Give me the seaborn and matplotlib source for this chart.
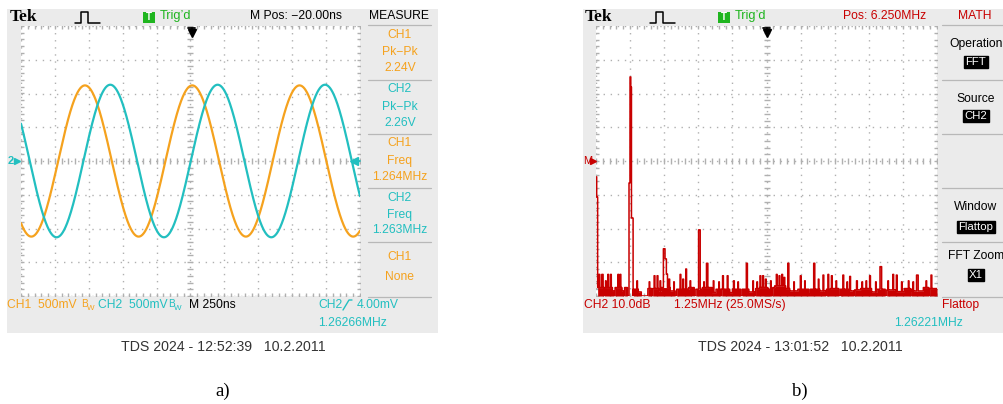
import numpy as np
import pandas as pd
import matplotlib
matplotlib.use("Agg")
import matplotlib.pyplot as plt
import seaborn as sns
from matplotlib.patches import Rectangle

sns.set_theme(style="white")
plt.rcParams["font.family"] = ["Liberation Sans", "DejaVu Sans"]
plt.rcParams["lines.scale_dashes"] = False

# ---------------- data ----------------
channels = ["CH1", "CH2"]
pk_pk_volts = [2.24, 2.26]          # MEASURE panel
freq_mhz = [1.264, 1.263]           # MEASURE panel
peak_time_ns = [13.0, 200.0]        # time of a positive peak
volts_per_div = 0.5
time_window_ns = [-1250, 1250]      # 250 ns/div, 10 divisions

# FFT noise floor as steps: start frequency (MHz) and level (dB rel. M marker)
floor_start_mhz = [0.06, 0.28, 0.31, 0.60, 0.66, 0.70, 0.95, 1.02, 1.05, 1.15,
                   1.37, 1.55, 1.66, 1.90, 2.05, 2.08, 2.30, 2.40, 2.72, 2.90,
                   2.96, 3.40, 3.52, 3.55, 3.60, 3.66, 3.90, 4.25, 4.40, 4.58,
                   4.61, 4.90, 5.00, 5.30, 5.36, 5.60, 5.82, 5.85, 6.00, 6.30,
                   6.45, 6.48, 6.55, 6.95, 7.10, 7.40, 7.80, 7.86, 8.20, 8.42,
                   8.45, 8.60, 8.90, 8.96, 9.30, 9.45, 9.48, 9.70, 10.10, 10.30,
                   10.60, 10.66, 11.00, 11.30, 11.52, 11.55, 11.60, 12.00, 12.20, 12.23]
floor_level_db = [-37.5, -40.0, -37.5, -38.5, -40.0, -37.5, -38.5, -40.0, -37.5, -40.0,
                  -38.0, -38.8, -40.0, -37.8, -40.0, -37.8, -38.5, -37.5, -38.5, -40.0,
                  -38.0, -37.5, -40.0, -37.5, -40.0, -38.0, -37.5, -39.0, -38.0, -40.0,
                  -38.0, -39.0, -38.0, -40.0, -38.0, -38.8, -40.0, -37.8, -37.5, -38.0,
                  -40.0, -37.5, -37.0, -37.8, -38.5, -38.0, -39.5, -38.0, -38.5, -40.0,
                  -38.0, -37.8, -40.0, -38.0, -38.5, -40.0, -38.2, -37.8, -38.8, -38.0,
                  -40.0, -38.2, -38.7, -37.8, -40.0, -38.0, -38.5, -37.5, -40.0, -37.8]

# FFT peaks / spikes above the floor: start, end (MHz) and level (dB)
spike_start_mhz = [0.00, 0.025, 0.10, 0.21, 0.35, 0.43, 0.53, 0.80, 0.88, 1.21,
                   1.245, 1.275, 1.30, 1.50, 1.95, 2.13, 2.24, 2.35, 2.47, 2.53,
                   2.58, 2.67, 2.85, 3.08, 3.18, 3.29, 3.45, 3.76, 3.95, 4.05,
                   4.30, 4.50, 4.64, 4.81, 5.04, 5.20, 5.51, 5.75, 5.90, 6.01,
                   6.11, 6.21, 6.40, 6.61, 6.71, 6.81, 6.89, 7.03, 7.25, 7.49,
                   7.65, 7.98, 8.15, 8.32, 8.50, 8.63, 8.80, 9.05, 9.20, 9.30,
                   9.55, 9.75, 9.90, 10.03, 10.25, 10.41, 10.70, 10.88, 11.01, 11.20,
                   11.45, 11.62, 11.75, 12.10, 12.28]
spike_end_mhz = [0.025, 0.06, 0.14, 0.26, 0.37, 0.46, 0.56, 0.83, 0.91, 1.245,
                 1.275, 1.30, 1.36, 1.52, 1.97, 2.16, 2.27, 2.37, 2.53, 2.58,
                 2.62, 2.70, 2.87, 3.11, 3.21, 3.32, 3.47, 3.82, 3.97, 4.10,
                 4.32, 4.52, 4.67, 4.84, 5.07, 5.22, 5.55, 5.77, 5.92, 6.04,
                 6.14, 6.24, 6.42, 6.64, 6.74, 6.84, 6.92, 7.07, 7.27, 7.52,
                 7.67, 8.02, 8.17, 8.35, 8.53, 8.66, 8.82, 9.08, 9.22, 9.33,
                 9.58, 9.77, 9.92, 10.06, 10.27, 10.47, 10.72, 10.91, 11.04, 11.22,
                 11.47, 11.64, 11.81, 12.12, 12.31]
spike_level_db = [-4.7, -10.7, -33.6, -33.6, -35.5, -33.6, -33.6, -33.6, -33.6, -6.5,
                  24.9, 21.9, -16.9, -35.5, -35.8, -34.0, -34.0, -35.5, -26.0, -29.0,
                  -33.5, -35.0, -35.8, -33.6, -35.0, -32.0, -35.5, -20.4, -35.8, -30.3,
                  -35.5, -35.8, -34.0, -34.0, -35.5, -35.8, -30.3, -35.5, -35.8, -34.0,
                  -34.0, -35.0, -35.5, -33.6, -34.0, -33.6, -34.5, -30.3, -35.8, -34.0,
                  -35.5, -30.3, -35.0, -33.8, -33.6, -34.0, -35.5, -33.8, -35.8, -34.2,
                  -35.5, -35.8, -35.5, -34.0, -35.8, -31.3, -35.5, -33.6, -33.8, -35.8,
                  -35.5, -35.8, -33.8, -35.5, -33.8]
fft_span_mhz = [0.0, 12.5]
db_per_div = 10.0

# ---------------- colours ----------------
ORANGE = "#f5a21e"
CYAN = "#22bfc0"
RED = "#c80000"
GREEN = "#1fb51f"
SCREEN = "#ebebeb"
GRID = "#b0b0b0"

W, H = 1004, 404
fig = plt.figure(figsize=(W / 100, H / 100), dpi=100)
fig.patch.set_facecolor("white")


def px_axes(l, t, r, b, z):
    return fig.add_axes([l / W, 1 - b / H, (r - l) / W, (b - t) / H], zorder=z)


bg = px_axes(0, 0, W, H, 0)
bg.set_xlim(0, W)
bg.set_ylim(H, 0)
bg.axis("off")

bg.add_patch(Rectangle((7, 9), 431, 324, color=SCREEN, lw=0))
bg.add_patch(Rectangle((583, 9), 421, 324, color=SCREEN, lw=0))

SANS = ["Liberation Sans", "DejaVu Sans"]
FS = 8.7


def t(x, y, s, c="black", ha="left", size=FS, ax=None, **kw):
    (ax or bg).text(x, y, s, color=c, ha=ha, va="center", fontsize=size,
                    family=kw.pop("family", SANS), **kw)


def header(x0, green_x):
    t(x0, 17, "Tek", family=["Liberation Serif", "DejaVu Serif"], weight="bold", size=12.5)
    px = x0 + 65
    bg.plot([px, px + 6, px + 6, px + 13, px + 13, px + 25], [22.5, 22.5, 11.5, 11.5, 22.5, 22.5],
            color="black", lw=1.1)
    bg.add_patch(Rectangle((green_x, 12), 12, 10.5, color=GREEN, lw=0))
    bg.text(green_x + 6, 17.5, "T", color="white", ha="center", va="center", fontsize=7, weight="bold")
    t(green_x + 17, 16.5, "Trig\u2019d", c=GREEN, size=9.2)


def sep_lines(x0, x1):
    for yy in [25, 80, 134, 188, 242, 297]:
        bg.plot([x0, x1], [yy, yy], color="#b8b8b8", lw=0.9)


# ----- panel a) texts -----
header(10, 143)
t(250, 16, "M Pos: \u221220.00ns")
t(399, 16, "MEASURE", ha="center")
sep_lines(368, 431)
side = [("CH1", 35, ORANGE), ("Pk\u2212Pk", 52, ORANGE), ("2.24V", 68, ORANGE),
        ("CH2", 89, CYAN), ("Pk\u2212Pk", 107, CYAN), ("2.26V", 123, CYAN),
        ("CH1", 143, ORANGE), ("Freq", 161, ORANGE), ("1.264MHz", 177, ORANGE),
        ("CH2", 198, CYAN), ("Freq", 215, CYAN), ("1.263MHz", 230, CYAN),
        ("CH1", 257, ORANGE), ("None", 277, ORANGE)]
for s, yy, c in side:
    t(400, yy, s, c=c, ha="center")
t(7, 305, "CH1  500mV", c=ORANGE)
t(81, 304, "B", c=ORANGE, size=7.2)
t(86.5, 308, "W", c=ORANGE, size=5.8)
t(98, 305, "CH2  500mV", c=CYAN)
t(168, 304, "B", c=CYAN, size=7.2)
t(173.5, 308, "W", c=CYAN, size=5.8)
t(189, 305, "M 250ns")
t(318, 305, "CH2", c=CYAN)
bg.plot([343, 349, 352], [310, 300, 300], color=CYAN, lw=1.0)
t(357, 305, "4.00mV", c=CYAN)
t(318, 323, "1.26266MHz", c=CYAN)
t(223, 347, "TDS 2024 - 12:52:39   10.2.2011", c="#333333", ha="center", size=10.2)
t(223, 391, "a)", ha="center", size=13.5, family=["Liberation Serif", "DejaVu Serif"])

# ----- panel b) texts -----
header(585, 718)
t(843, 16, "Pos: 6.250MHz", c=RED)
t(975, 16, "MATH", c=RED, ha="center")
sep_lines(942, 1004)
t(976, 44, "Operation", ha="center")
t(976, 99, "Source", ha="center")
t(976, 207, "Window", ha="center")
t(976, 256, "FFT Zoom", ha="center")
box = dict(boxstyle="square,pad=0.12", fc="black", ec="black")
for s, yy in [("FFT", 62), ("CH2", 116), ("Flattop", 227), ("X1", 275)]:
    bg.text(976, yy, s, color="white", ha="center", va="center", fontsize=8.2,
            family=SANS, bbox=box)
t(584, 305, "CH2 10.0dB", c=RED)
t(674, 305, "1.25MHz (25.0MS/s)", c=RED)
t(942, 305, "Flattop", c=RED)
t(894, 323, "1.26221MHz", c=CYAN)
t(800, 347, "TDS 2024 - 13:01:52   10.2.2011", c="#333333", ha="center", size=10.2)
t(800, 391, "b)", ha="center", size=13.5, family=["Liberation Serif", "DejaVu Serif"])


# ---------------- graticule helper ----------------
def graticule(ax, xlim, ylim):
    x0, x1 = xlim
    y0, y1 = ylim
    dx = (x1 - x0) / 10
    dy = (y1 - y0) / 8
    ax.set_xlim(x0, x1)
    ax.set_ylim(y0, y1)
    ax.set_facecolor("white")
    for s in ax.spines.values():
        s.set_visible(False)
    ax.set_xticks(np.linspace(x0, x1, 11))
    ax.set_yticks(np.linspace(y0, y1, 9))
    ax.tick_params(length=0, labelbottom=False, labelleft=False)
    ax.grid(True, color=GRID, lw=1.0, linestyle=(0, (1.0, 4.1)))
    xm = np.arange(x0, x1 + dx / 10, dx / 5)
    ym = np.arange(y0, y1 + dy / 10, dy / 5)
    xc = (x0 + x1) / 2
    yc = (y0 + y1) / 2
    ax.plot(xm, np.full_like(xm, yc), ls="none", marker="|", ms=4, mew=1.0, color=GRID, zorder=1)
    ax.plot(np.full_like(ym, xc), ym, ls="none", marker="_", ms=4, mew=1.0, color=GRID, zorder=1)
    for yy in [y0, y1]:
        ax.plot(xm, np.full_like(xm, yy), ls="none", marker="|", ms=5, mew=1.0, color=GRID, zorder=1)
    for xx in [x0, x1]:
        ax.plot(np.full_like(ym, xx), ym, ls="none", marker="_", ms=5, mew=1.0, color=GRID, zorder=1)


# ---------------- panel a) waveforms ----------------
axa = px_axes(21, 26, 360, 296, 2)
tt = np.linspace(time_window_ns[0], time_window_ns[1], 1500)
frames = []
for ch, vpp, f, tp in zip(channels, pk_pk_volts, freq_mhz, peak_time_ns):
    v = vpp / 2 * np.cos(2 * np.pi * f * 1e-3 * (tt - tp))
    frames.append(pd.DataFrame({"t": tt, "div": v / volts_per_div, "ch": ch}))
wave = pd.concat(frames, ignore_index=True)
graticule(axa, time_window_ns, (-4, 4))
sns.lineplot(data=wave, x="t", y="div", hue="ch", palette={"CH1": ORANGE, "CH2": CYAN},
             lw=1.6, legend=False, ax=axa, zorder=3, estimator=None, sort=False)
axa.set_xlim(*time_window_ns)
axa.set_ylim(-4, 4)
axa.set_xlabel("")
axa.set_ylabel("")

# ---------------- panel b) FFT ----------------
axb = px_axes(596, 26, 937, 296, 2)
graticule(axb, fft_span_mhz, (-4 * db_per_div, 4 * db_per_div))
fgrid = np.round(np.arange(0.0, fft_span_mhz[1] + 1e-9, 0.0025), 4)
fs = np.array(floor_start_mhz)
fl = np.array(floor_level_db)
idx = np.searchsorted(fs, fgrid, side="right") - 1
floor = np.where(idx >= 0, fl[np.clip(idx, 0, None)], -40.0)
trace = floor.copy()
for s0, s1, lv in zip(spike_start_mhz, spike_end_mhz, spike_level_db):
    trace[(fgrid >= s0) & (fgrid < s1)] = lv
spec = pd.DataFrame({"f": fgrid, "db": trace, "floor": floor})
axb.fill_between(spec["f"], -40, spec["floor"], step="post", color=RED, lw=0, zorder=3)
sns.lineplot(data=spec, x="f", y="db", color=RED, lw=1.1, drawstyle="steps-post",
             ax=axb, zorder=4, estimator=None, sort=False)
axb.set_xlim(*fft_span_mhz)
axb.set_ylim(-40, 40)
axb.set_xlabel("")
axb.set_ylabel("")

# ---------------- foreground markers ----------------
fg = px_axes(0, 0, W, H, 5)
fg.set_xlim(0, W)
fg.set_ylim(H, 0)
fg.axis("off")
for xa in [192, 767]:
    fg.plot([xa - 3.5, xa + 3.5], [27.5, 27.5], color="black", lw=1.3)
    fg.plot([xa, xa], [27.5, 31], color="black", lw=1.3)
    fg.plot([xa], [33], marker="v", ms=5.5, color="black")
fg.plot([353, 360], [161, 161], color=CYAN, lw=1.3)
fg.plot([354], [161], marker="<", ms=5.5, color=CYAN)
# ground / reference markers at left edge
t(8, 161, "2", c=CYAN, size=8, ax=fg, weight="bold")
fg.plot([17], [161], marker=">", ms=5, color=CYAN)
t(583.5, 161, "M", c=RED, size=8, ax=fg)
fg.plot([593.5], [161], marker=">", ms=5, color=RED)

fig.savefig("out.png", dpi=100, facecolor="white")
